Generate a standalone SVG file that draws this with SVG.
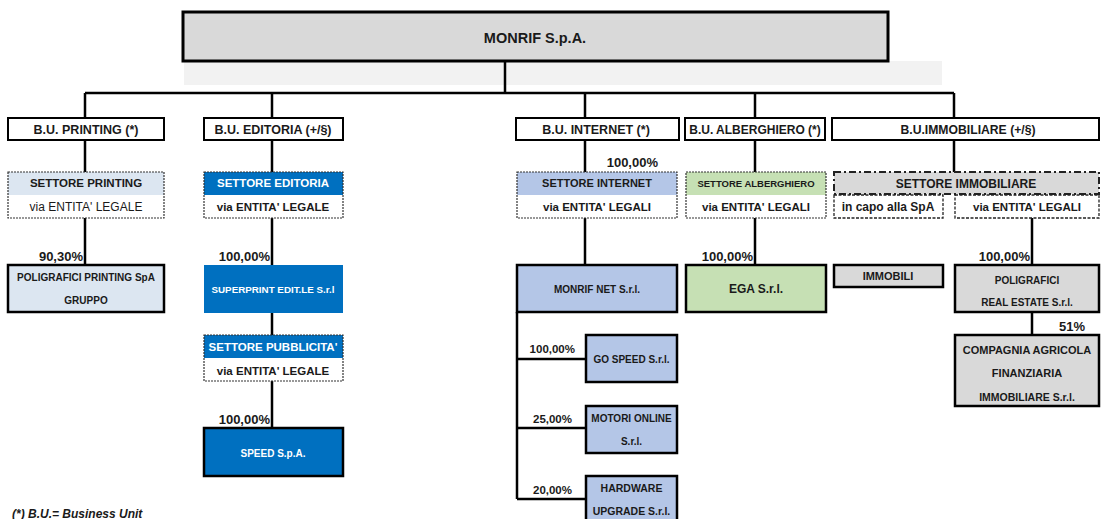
<svg xmlns="http://www.w3.org/2000/svg" width="1101" height="519" viewBox="0 0 1101 519">
<style>
text{font-family:"Liberation Sans",Arial,sans-serif;font-weight:bold;fill:#1a1a1a;text-anchor:middle}
.w{fill:#ffffff}
.reg{font-weight:normal}
.bu{fill:#ffffff;stroke:#000;stroke-width:2}
.node{stroke:#000;stroke-width:2.5}
.dot{fill:none;stroke:#333;stroke-width:1.2;stroke-dasharray:2,1}
.dash{fill:#ffffff;stroke:#222;stroke-width:1.3;stroke-dasharray:3,1.5}
.pct{text-anchor:end;font-size:13px}
.pcts{text-anchor:end;font-size:11.5px}
#connectors path{fill:none;stroke:#000;stroke-width:2.5}
</style>
<rect x="184" y="61" width="758" height="24" fill="#f2f2f2"/>
<g id="connectors">
<path d="M505 61V93M85 93H954M85 93V118M272 93V118M585 93V118M755 93V118M954 93V118"/>
<path d="M85 140V172M272 140V172M585 140V172M755 140V172M954 140V172"/>
<path d="M85 218V265M272 218V265M272 313V335M272 381V428"/>
<path d="M585 218V265M517 312V499M517 359H586M517 428H586M517 499H586"/>
<path d="M755 218V265M1032 218V265M1032 312V335"/>
</g>
<g id="monrif">
<rect x="183" y="12" width="705" height="49" fill="#d9d9d9" stroke="#000" stroke-width="3"/>
<text x="535" y="43" font-size="14.5">MONRIF S.p.A.</text>
</g>
<g id="bu-printing"><rect class="bu" x="8" y="118" width="156" height="22"/><text x="86" y="133.5" font-size="12.5">B.U. PRINTING (*)</text></g>
<g id="bu-editoria"><rect class="bu" x="204" y="118" width="139" height="22"/><text x="273" y="133.5" font-size="12.5">B.U. EDITORIA (+/§)</text></g>
<g id="bu-internet"><rect class="bu" x="516" y="118" width="163" height="22"/><text x="596" y="133.5" font-size="12.5">B.U. INTERNET (*)</text></g>
<g id="bu-alberghiero"><rect class="bu" x="685" y="118" width="140" height="22"/><text x="755" y="133.5" font-size="12">B.U. ALBERGHIERO (*)</text></g>
<g id="bu-immobiliare"><rect class="bu" x="832" y="118" width="267" height="22"/><text x="968" y="133.5" font-size="12.2">B.U.IMMOBILIARE (+/§)</text></g>

<g id="settore-printing">
<rect x="8" y="172" width="156" height="46" fill="#ffffff"/>
<rect x="8" y="172" width="156" height="23" fill="#dce6f1"/>
<rect class="dot" x="8" y="172" width="156" height="46"/>
<text x="86" y="187" font-size="11.5">SETTORE PRINTING</text>
<text class="reg" x="86" y="211" font-size="12">via ENTITA' LEGALE</text>
</g>
<g id="settore-editoria">
<rect x="204" y="172" width="139" height="46" fill="#ffffff"/>
<rect x="204" y="172" width="139" height="23" fill="#0070c0"/>
<rect class="dot" x="204" y="172" width="139" height="46"/>
<text class="w" x="273" y="187" font-size="11.5">SETTORE EDITORIA</text>
<text x="273" y="211" font-size="11.5">via ENTITA' LEGALE</text>
</g>
<g id="settore-internet">
<rect x="517" y="172" width="160" height="46" fill="#ffffff"/>
<rect x="517" y="172" width="160" height="23" fill="#b4c6e7"/>
<rect class="dot" x="517" y="172" width="160" height="46"/>
<text x="597" y="187" font-size="11">SETTORE INTERNET</text>
<text x="597" y="211" font-size="11.5">via ENTITA' LEGALI</text>
<text class="pct" x="658" y="166.5">100,00%</text>
</g>
<g id="settore-alberghiero">
<rect x="686" y="172" width="140" height="46" fill="#ffffff"/>
<rect x="686" y="172" width="140" height="23" fill="#c6e0b4"/>
<rect class="dot" x="686" y="172" width="140" height="46"/>
<text x="756" y="187" font-size="9.5">SETTORE ALBERGHIERO</text>
<text x="756" y="211" font-size="11.5">via ENTITA' LEGALI</text>
</g>
<g id="settore-immobiliare">
<rect x="834" y="172" width="265" height="22" fill="#d9d9d9" stroke="#222" stroke-width="2" stroke-dasharray="7,3,2,3"/>
<text x="966" y="187.5" font-size="12">SETTORE IMMOBILIARE</text>
<rect class="dash" x="834" y="195" width="109" height="23"/>
<text x="888" y="211" font-size="12">in capo alla SpA</text>
<rect class="dash" x="955" y="195" width="144" height="23"/>
<text x="1027" y="211" font-size="11.5">via ENTITA' LEGALI</text>
</g>

<g id="poligrafici-printing">
<rect class="node" x="8" y="265" width="156" height="47" fill="#dce6f1"/>
<text x="86" y="280.5" font-size="10">POLIGRAFICI PRINTING SpA</text>
<text x="86" y="303.5" font-size="10">GRUPPO</text>
<text class="pct" x="83" y="260.5">90,30%</text>
</g>
<g id="superprint">
<rect x="204" y="265" width="139" height="48" fill="#0070c0"/>
<text class="w" x="273" y="292.5" font-size="9.8">SUPERPRINT EDIT.LE S.r.l</text>
<text class="pct" x="270" y="260.5">100,00%</text>
</g>
<g id="settore-pubblicita">
<rect x="204" y="335" width="139" height="46" fill="#ffffff"/>
<rect x="204" y="335" width="139" height="23" fill="#0070c0"/>
<rect class="dot" x="204" y="335" width="139" height="46"/>
<text class="w" x="273" y="350.5" font-size="11.5">SETTORE PUBBLICITA'</text>
<text x="273" y="374.5" font-size="11.5">via ENTITA' LEGALE</text>
</g>
<g id="speed">
<rect class="node" x="204" y="428" width="139" height="48" fill="#0070c0"/>
<text class="w" x="273" y="456.5" font-size="10">SPEED S.p.A.</text>
<text class="pct" x="270" y="423.5">100,00%</text>
</g>
<g id="monrif-net">
<rect class="node" x="517" y="265" width="160" height="47" fill="#b4c6e7"/>
<text x="597" y="292.5" font-size="10">MONRIF NET S.r.l.</text>
</g>
<g id="go-speed">
<rect class="node" x="586" y="335" width="91" height="47" fill="#b4c6e7"/>
<text x="631.5" y="362.5" font-size="10">GO SPEED S.r.l.</text>
<text class="pcts" x="575" y="353">100,00%</text>
</g>
<g id="motori-online">
<rect class="node" x="586" y="406" width="91" height="47" fill="#b4c6e7"/>
<text x="631.5" y="421.5" font-size="10">MOTORI ONLINE</text>
<text x="631.5" y="444.5" font-size="10">S.r.l.</text>
<text class="pcts" x="572" y="423">25,00%</text>
</g>
<g id="hardware-upgrade">
<rect class="node" x="586" y="476" width="91" height="50" fill="#b4c6e7"/>
<text x="631.5" y="491.5" font-size="10.5">HARDWARE</text>
<text x="631.5" y="514.5" font-size="10.5">UPGRADE S.r.l.</text>
<text class="pcts" x="572" y="494">20,00%</text>
</g>
<g id="ega">
<rect class="node" x="686" y="265" width="140" height="47" fill="#c6e0b4"/>
<text x="756" y="293" font-size="12">EGA S.r.l.</text>
<text class="pct" x="753" y="260.5">100,00%</text>
</g>
<g id="immobili">
<rect class="node" x="834" y="265" width="109" height="22" fill="#d9d9d9"/>
<text x="888" y="280" font-size="11">IMMOBILI</text>
</g>
<g id="poligrafici-real-estate">
<rect class="node" x="955" y="265" width="144" height="47" fill="#d9d9d9"/>
<text x="1027" y="283.5" font-size="10">POLIGRAFICI</text>
<text x="1027" y="305.5" font-size="10">REAL ESTATE S.r.l.</text>
<text class="pct" x="1030" y="260.5">100,00%</text>
</g>
<g id="compagnia-agricola">
<rect class="node" x="955" y="335" width="144" height="71" fill="#d9d9d9"/>
<text x="1027" y="354" font-size="11">COMPAGNIA AGRICOLA</text>
<text x="1027" y="377" font-size="11">FINANZIARIA</text>
<text x="1027" y="401" font-size="10.5">IMMOBILIARE S.r.l.</text>
<text class="pct" x="1085" y="330.5">51%</text>
</g>
<text x="12" y="517.5" font-size="12" font-style="italic" style="text-anchor:start">(*) B.U.= Business Unit</text>
</svg>
